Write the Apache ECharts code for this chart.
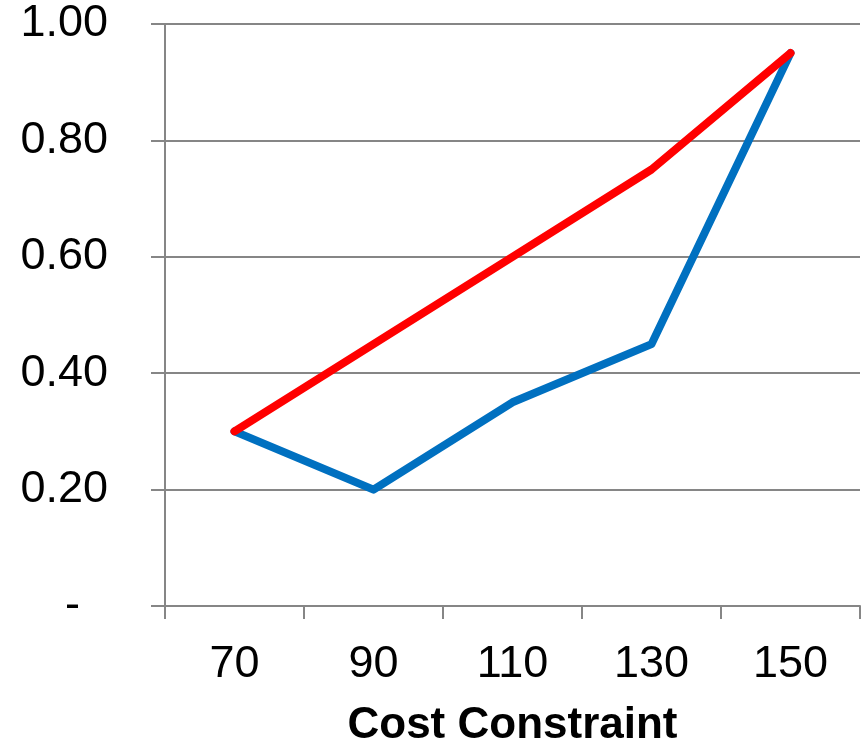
<!DOCTYPE html>
<html>
<head>
<meta charset="utf-8">
<script src="https://cdn.jsdelivr.net/npm/echarts@6/dist/echarts.min.js"></script>
<style>
  html, body { margin: 0; padding: 0; background: #fff; }
  #chart { width: 867px; height: 754px; }
</style>
</head>
<body>
<div id="chart"></div>
<script>
// Cost constraint levels on the category axis
const costLevels = ['70', '90', '110', '130', '150'];
// Two series plotted against the constraint
const blueValues = [0.30, 0.20, 0.35, 0.45, 0.95];
const redValues = [0.30, 0.45, 0.60, 0.75, 0.95];
// Value axis range and step
const yMin = 0;
const yMax = 1;
const yStep = 0.2;
const xTitle = 'Cost Constraint';

const gray = '#868686';
const font = 'Liberation Sans, Arial, Helvetica, sans-serif';

const chart = echarts.init(document.getElementById('chart'), null, { renderer: 'canvas' });
chart.setOption({
  animation: false,
  backgroundColor: '#ffffff',
  grid: { left: 165, right: 7, top: 24, bottom: 148, containLabel: false },
  xAxis: {
    type: 'category',
    data: costLevels,
    boundaryGap: true,
    name: xTitle,
    nameLocation: 'middle',
    nameGap: 98,
    nameTextStyle: { fontFamily: font, fontSize: 44, fontWeight: 'bold', color: '#000' },
    axisLine: { show: true, lineStyle: { color: gray, width: 2 } },
    axisTick: { show: true, length: 13, lineStyle: { color: gray, width: 2 } },
    axisLabel: { fontFamily: font, fontSize: 45, color: '#000', margin: 36 },
    splitLine: { show: false }
  },
  yAxis: {
    type: 'value',
    min: yMin,
    max: yMax,
    interval: yStep,
    axisLine: { show: true, lineStyle: { color: gray, width: 2 } },
    axisTick: { show: true, length: 14, lineStyle: { color: gray, width: 2 } },
    axisLabel: {
      fontFamily: font,
      fontSize: 45,
      color: '#000',
      margin: 57,
      formatter: function (v) {
        return v === 0 ? '{z|-}' : v.toFixed(2);
      },
      rich: { z: { fontFamily: font, fontSize: 45, color: '#000', padding: [0, 28, 0, 0] } }
    },
    splitLine: { show: true, lineStyle: { color: gray, width: 2 } }
  },
  series: [
    {
      type: 'line',
      data: blueValues,
      symbol: 'none',
      smooth: false,
      lineStyle: { color: '#0070C0', width: 8, cap: 'round', join: 'round' },
      z: 2
    },
    {
      type: 'line',
      data: redValues,
      symbol: 'none',
      smooth: false,
      lineStyle: { color: '#FF0000', width: 8, cap: 'round', join: 'round' },
      z: 3
    }
  ]
});
</script>
</body>
</html>
